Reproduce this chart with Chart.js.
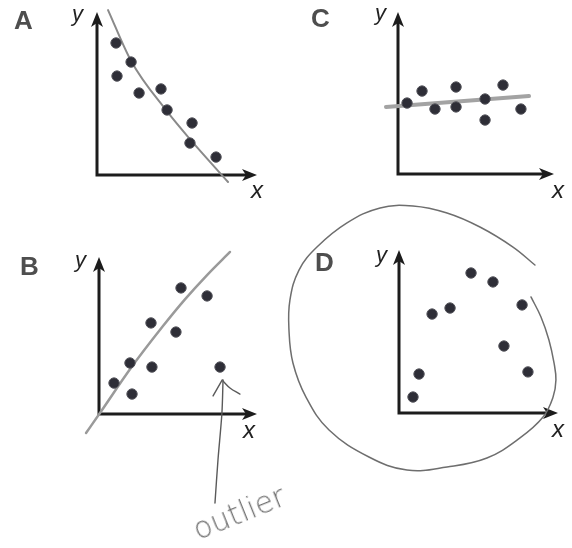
<!DOCTYPE html>
<html><head><meta charset="utf-8">
<script src="https://cdn.jsdelivr.net/npm/chart.js@4.4.1/dist/chart.umd.min.js"></script>
<style>
html,body{margin:0;padding:0;background:#fff;}
#wrap{position:relative;width:572px;height:548px;overflow:hidden;background:#fff;}
#wrap canvas{position:absolute;left:0;top:0;}
.lbl{position:absolute;line-height:1;white-space:nowrap;font-family:"Liberation Sans",Arial,sans-serif;}
.panel{font-weight:bold;font-size:26px;color:#4e4e4e;}
.ax{font-style:italic;color:#222;}
.note{font-family:"DejaVu Sans",sans-serif;font-weight:200;font-size:30px;color:#707070;transform-origin:0 100%;transform:rotate(-22deg);}
</style></head>
<body><div id="wrap">
<canvas id="cA" width="572" height="548"></canvas>
<canvas id="cB" width="572" height="548"></canvas>
<canvas id="cC" width="572" height="548"></canvas>
<canvas id="cD" width="572" height="548"></canvas>
</div>
<script>
// ---- data (each panel in its own 0..10 units) ----
const panelLetters = ['A', 'B', 'C', 'D'];
const axisNames = ['x', 'y'];
const noteText = 'outlier';

const pointsA = [{x:1.19,y:8.10},{x:2.13,y:6.93},{x:1.25,y:6.07},{x:2.63,y:5.03},{x:4.00,y:5.28},
                 {x:4.38,y:3.99},{x:5.94,y:3.19},{x:5.81,y:1.96},{x:7.44,y:1.10}];
const fitA = [{x:0.69,y:10.12},{x:2.13,y:7.00},{x:4.38,y:3.90},{x:5.81,y:2.20},{x:8.19,y:-0.43}];

const pointsB = [{x:0.95,y:1.97},{x:1.96,y:3.25},{x:2.09,y:1.27},{x:3.35,y:2.99},{x:3.29,y:5.80},
                 {x:4.87,y:5.22},{x:5.19,y:8.03},{x:6.84,y:7.52},{x:7.66,y:2.99}];
const fitB = [{x:-0.82,y:-1.21},{x:0.06,y:0.06},{x:1.96,y:2.85},{x:4.05,y:5.60},{x:5.44,y:7.30},
              {x:6.84,y:8.85},{x:8.29,y:10.32}];
const arrowShaftB = [{x:7.85,y:2.17},{x:7.78,y:0.06},{x:7.53,y:-2.93},{x:7.34,y:-5.67}];
const arrowLeftB = [{x:7.22,y:1.15},{x:7.80,y:2.17}];
const arrowRightB = [{x:7.85,y:2.10},{x:8.29,y:1.66},{x:8.92,y:1.27}];

const pointsC = [{x:0.58,y:4.38},{x:1.54,y:5.12},{x:2.37,y:4.01},{x:3.72,y:5.37},{x:3.72,y:4.14},
                 {x:5.58,y:4.63},{x:5.58,y:3.33},{x:6.73,y:5.49},{x:7.88,y:4.01}];
const fitC = [{x:-0.77,y:4.14},{x:8.40,y:4.81}];

const pointsD = [{x:4.53,y:8.59},{x:5.91,y:8.04},{x:2.08,y:6.07},{x:3.21,y:6.44},{x:7.74,y:6.63},
                 {x:6.60,y:4.11},{x:1.26,y:2.39},{x:8.11,y:2.52},{x:0.88,y:0.98}];
const circleD = [{x:8.55,y:9.08},{x:7.17,y:10.18},{x:5.09,y:11.41},{x:3.02,y:12.27},{x:0.88,y:12.70},
                 {x:-1.19,y:12.58},{x:-3.27,y:11.66},{x:-5.16,y:10.18},{x:-6.29,y:8.77},{x:-6.86,y:6.93},
                 {x:-6.92,y:5.09},{x:-6.67,y:3.07},{x:-5.85,y:0.98},{x:-4.40,y:-1.04},{x:-1.89,y:-2.70},
                 {x:0.50,y:-3.50},{x:3.02,y:-3.31},{x:5.53,y:-2.76},{x:7.61,y:-1.53},{x:9.06,y:-0.25},
                 {x:9.69,y:0.98},{x:9.87,y:2.02},{x:9.75,y:3.07},{x:9.43,y:4.48},{x:8.93,y:5.89},{x:8.30,y:7.12}];

// ---- layout (page pixels of each plot box) ----
const boxes = {
  A:{left:97, top:12, right:315, bottom:373},
  B:{left:99, top:257, right:315, bottom:134},
  C:{left:398, top:12, right:18, bottom:374},
  D:{left:399, top:250, right:14, bottom:135}
};

const axisArrows = {
  id:'axisArrows',
  beforeDatasetsDraw(chart){
    const {ctx, chartArea:a} = chart;
    ctx.save();
    ctx.strokeStyle = '#1c1c1c'; ctx.fillStyle = '#1c1c1c'; ctx.lineWidth = 3;
    ctx.beginPath();
    ctx.moveTo(a.left, a.bottom + 1.5); ctx.lineTo(a.left, a.top + 10);
    ctx.moveTo(a.left - 1.5, a.bottom); ctx.lineTo(a.right - 10, a.bottom);
    ctx.stroke();
    // y arrowhead
    ctx.beginPath();
    ctx.moveTo(a.left, a.top); ctx.lineTo(a.left + 6, a.top + 15); ctx.lineTo(a.left, a.top + 11);
    ctx.lineTo(a.left - 6, a.top + 15); ctx.closePath(); ctx.fill();
    // x arrowhead
    ctx.beginPath();
    ctx.moveTo(a.right, a.bottom); ctx.lineTo(a.right - 15, a.bottom - 6); ctx.lineTo(a.right - 11, a.bottom);
    ctx.lineTo(a.right - 15, a.bottom + 6); ctx.closePath(); ctx.fill();
    ctx.restore();
  }
};

function pts(data){
  return {data, showLine:false, pointRadius:5.2, pointHoverRadius:5.2,
    pointBackgroundColor:'#2e2e37', pointBorderColor:'#55555c', pointBorderWidth:1, order:0, clip:false};
}
function curve(data, color, width, tension, mono){
  const ds = {data, showLine:true, pointRadius:0, pointHoverRadius:0, borderColor:color, borderWidth:width,
    tension:tension, fill:false, order:1, clip:false, borderCapStyle:'round', borderJoinStyle:'round'};
  if (mono) ds.cubicInterpolationMode = 'monotone';
  return ds;
}

function makeChart(id, box, datasets){
  return new Chart(document.getElementById(id), {
    type:'scatter',
    data:{datasets},
    options:{
      responsive:false, animation:false, events:[],
      layout:{padding:box},
      scales:{
        x:{type:'linear', min:0, max:10, display:false},
        y:{type:'linear', min:0, max:10, display:false}
      },
      plugins:{legend:{display:false}, tooltip:{enabled:false}}
    },
    plugins:[axisArrows]
  });
}

makeChart('cA', boxes.A, [pts(pointsA), curve(fitA, '#8a8a8a', 2, 0.4, true)]);
makeChart('cB', boxes.B, [pts(pointsB), curve(fitB, '#9a9a9a', 2.5, 0.4, true),
  curve(arrowShaftB, '#5a5a5a', 1.4, 0.3), curve(arrowLeftB, '#5a5a5a', 1.4, 0),
  curve(arrowRightB, '#5a5a5a', 1.4, 0.4)]);
makeChart('cC', boxes.C, [pts(pointsC), curve(fitC, '#a3a3a3', 4, 0)]);
makeChart('cD', boxes.D, [pts(pointsD), curve(circleD, '#6e6e6e', 1.5, 0.4)]);

// ---- text labels ----
const wrap = document.getElementById('wrap');
function addLabel(text, cls, left, top, size){
  const d = document.createElement('div');
  d.className = 'lbl ' + cls; d.textContent = text;
  d.style.left = left + 'px'; d.style.top = top + 'px';
  if (size) d.style.fontSize = size + 'px';
  wrap.appendChild(d);
}
const letterPos = [[14,7],[20,253],[311,5],[315,249]];
panelLetters.forEach((t,i)=>addLabel(t, 'panel', letterPos[i][0], letterPos[i][1]));
const yPos = [[72,3],[75,249],[375,2],[376,244]];
const xPos = [[251,178],[243,418],[552,178],[552,417]];
yPos.forEach(p=>addLabel(axisNames[1], 'ax', p[0], p[1], 22));
xPos.forEach(p=>addLabel(axisNames[0], 'ax', p[0], p[1], 24));
addLabel(noteText, 'note', 200, 515);
</script>
</body></html>
